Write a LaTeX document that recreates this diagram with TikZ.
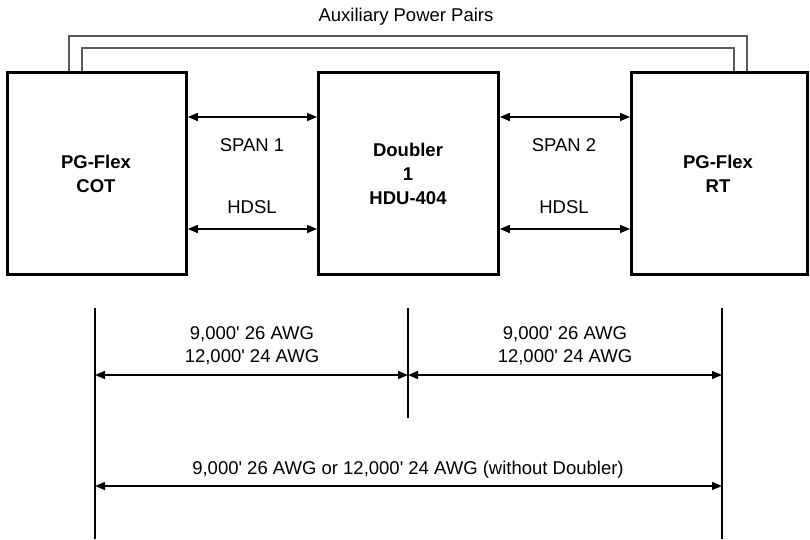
\documentclass[tikz,border=0pt]{standalone}
\usepackage{fontspec}
\setmainfont{Liberation Sans}
\usetikzlibrary{arrows.meta}
\newcommand{\ft}{\textquotesingle}
\begin{document}
\begin{tikzpicture}[x=1pt,y=-1pt,
  unitbox/.style={draw, line width=2.8pt, inner sep=0pt, anchor=north west},
  lbl/.style={font=\fontsize{18.5}{23}\selectfont, inner sep=0pt, align=center},
  boxlbl/.style={font=\fontsize{18.5}{24}\selectfont\bfseries, inner sep=0pt, align=center},
  aux/.style={draw=black!65, line width=1.4pt},
  link/.style={line width=1.5pt, {Triangle[length=10pt,width=8pt]}-{Triangle[length=10pt,width=8pt]}},
  tick/.style={line width=2.4pt},
  tickm/.style={line width=1.8pt}]
\useasboundingbox (0,0) rectangle (810,539);
% boxes
\node[unitbox, minimum width=179pt, minimum height=202pt] (cot) at (6,71) {};
\node[unitbox, minimum width=180pt, minimum height=202pt] (dbl) at (317,71) {};
\node[unitbox, minimum width=176pt, minimum height=202pt] (rt) at (630,71) {};
\node[boxlbl] (cott) at (96,173.5) {PG-Flex\\COT};
\node[boxlbl] (dblt) at (408,174) {Doubler\\1\\HDU-404};
\node[boxlbl] (rtt) at (718,173.5) {PG-Flex\\RT};
% auxiliary power pairs
\node[lbl] (auxt) at (406,17) {Auxiliary Power Pairs};
\coordinate (a1) at (69,71); \coordinate (a2) at (747,71);
\coordinate (b1) at (82,71); \coordinate (b2) at (734,71);
\draw[aux] (a1) -- (69,36) -- (747,36) -- (a2);
\draw[aux] (b1) -- (82,48) -- (734,48) -- (b2);
% span links
\draw[link] (cot.east |- 0,117) -- (dbl.west |- 0,117);
\draw[link] (cot.east |- 0,229) -- (dbl.west |- 0,229);
\draw[link] (dbl.east |- 0,117) -- (rt.west |- 0,117);
\draw[link] (dbl.east |- 0,229) -- (rt.west |- 0,229);
\node[lbl] (s1) at (252,145) {SPAN 1};
\node[lbl] (h1) at (252,207) {HDSL};
\node[lbl] (s2) at (564,145) {SPAN 2};
\node[lbl] (h2) at (564,207) {HDSL};
% dimension lines
\coordinate (l0) at (95,308); \coordinate (l1) at (95,539);
\coordinate (m0) at (408,308); \coordinate (m1) at (408,418);
\coordinate (r0) at (722,308); \coordinate (r1) at (722,539);
\draw[tick] (l0) -- (l1);
\draw[tickm] (m0) -- (m1);
\draw[tick] (r0) -- (r1);
\draw[link] (l0 |- 0,375) -- (m0 |- 0,375);
\draw[link] (m0 |- 0,375) -- (r0 |- 0,375);
\draw[link] (l0 |- 0,486) -- (r0 |- 0,486);
\node[lbl] (d1) at (252,346) {9,000\ft{} 26 AWG\\12,000\ft{} 24 AWG};
\node[lbl] (d2) at (565,346) {9,000\ft{} 26 AWG\\12,000\ft{} 24 AWG};
\node[lbl] (d3) at (408,470) {9,000\ft{} 26 AWG or 12,000\ft{} 24 AWG (without Doubler)};
\end{tikzpicture}
\end{document}
